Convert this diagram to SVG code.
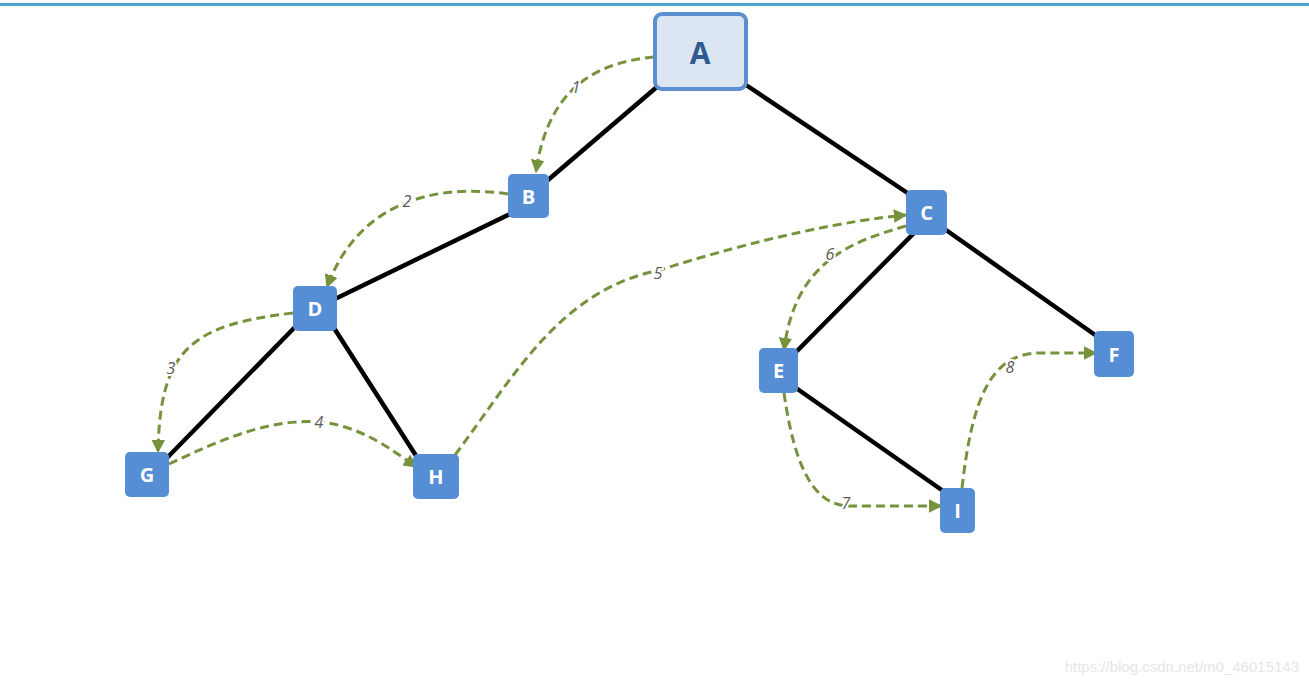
<svg xmlns="http://www.w3.org/2000/svg" width="1309" height="685" viewBox="0 0 1309 685">
<style>
.n rect{fill:#558ed5}
.n text{fill:#fff;font-family:"Open Sans","Noto Sans",sans-serif;font-weight:bold;font-size:20px;text-anchor:middle;dominant-baseline:central}
.e{stroke:#000;stroke-width:4.5;stroke-linecap:round;fill:none}
.t{stroke:#76923c;stroke-width:3;stroke-dasharray:9 5;fill:none;marker-end:url(#ah)}
.l{font-family:"Open Sans","Noto Sans",sans-serif;font-style:italic;font-size:16px;fill:#595959;text-anchor:middle;dominant-baseline:central;stroke:#fff;stroke-width:4;paint-order:stroke}
</style>
<defs>
<marker id="ah" viewBox="0 0 10 10" refX="9" refY="5" markerWidth="4.5" markerHeight="4.5" orient="auto" markerUnits="strokeWidth">
<path d="M0,0 L10,5 L0,10 z" fill="#76923c"/>
</marker>
</defs>
<rect x="0" y="3" width="1309" height="3" fill="#4ea1d3"/>
<g id="edges">
<line class="e" x1="658" y1="86" x2="548" y2="180"/>
<line class="e" x1="746" y1="85" x2="912" y2="196"/>
<line class="e" x1="512" y1="213" x2="337" y2="298"/>
<line class="e" x1="296" y1="326" x2="162" y2="463"/>
<line class="e" x1="334" y1="328" x2="422" y2="465"/>
<line class="e" x1="917" y1="230" x2="797" y2="351"/>
<line class="e" x1="946" y1="230" x2="1098" y2="337"/>
<line class="e" x1="796" y1="388" x2="946" y2="493"/>
</g>
<g id="traversal">
<path class="t" d="M654,57 C600,62 548,85 536,172"/>
<path class="t" d="M508,194 C440,184 360,198 327,287"/>
<path class="t" d="M293,313 C190,325 160,350 158,452"/>
<path class="t" d="M169,464 C220,440 270,418 320,422 C360,426 390,448 416,467"/>
<path class="t" d="M455,455 C515,375 560,290 660,270 C760,238 850,220 906,215"/>
<path class="t" d="M906,226 C850,242 795,262 784,350"/>
<path class="t" d="M784,393 C795,470 815,506 850,506 L941,506"/>
<path class="t" d="M962,488 C972,400 990,353 1040,353 L1096,353"/>
<text class="l" x="576" y="87">1</text>
<text class="l" x="407" y="201">2</text>
<text class="l" x="171" y="368">3</text>
<text class="l" x="319" y="422">4</text>
<text class="l" x="658" y="273">5</text>
<text class="l" x="830" y="254">6</text>
<text class="l" x="846" y="503">7</text>
<text class="l" x="1010" y="367">8</text>
</g>
<g id="A"><rect x="655" y="14" width="91" height="75" rx="7" fill="#dce6f2" stroke="#5b8fcf" stroke-width="4"/><text x="700" y="52" font-family="Open Sans,Noto Sans,sans-serif" font-weight="bold" font-size="30" fill="#2f5a8f" text-anchor="middle" dominant-baseline="central">A</text></g>
<g id="B" class="n"><rect x="508" y="174" width="41" height="44" rx="5"/><text x="528.5" y="196">B</text></g>
<g id="C" class="n"><rect x="906" y="190" width="41" height="45" rx="5"/><text x="926.5" y="212.5">C</text></g>
<g id="D" class="n"><rect x="293" y="286" width="44" height="45" rx="5"/><text x="315" y="308.5">D</text></g>
<g id="E" class="n"><rect x="759" y="348" width="39" height="45" rx="5"/><text x="778.5" y="370.5">E</text></g>
<g id="F" class="n"><rect x="1094" y="331" width="40" height="46" rx="5"/><text x="1114" y="354">F</text></g>
<g id="G" class="n"><rect x="125" y="452" width="44" height="45" rx="5"/><text x="147" y="474.5">G</text></g>
<g id="H" class="n"><rect x="413" y="454" width="46" height="45" rx="5"/><text x="436" y="476.5">H</text></g>
<g id="I" class="n"><rect x="940" y="488" width="35" height="45" rx="5"/><text x="957.5" y="510.5">I</text></g>
<text x="1299" y="672" font-family="Liberation Sans,Arial,sans-serif" font-size="15" fill="#e6e6e6" text-anchor="end">https://blog.csdn.net/m0_46015143</text>
</svg>
